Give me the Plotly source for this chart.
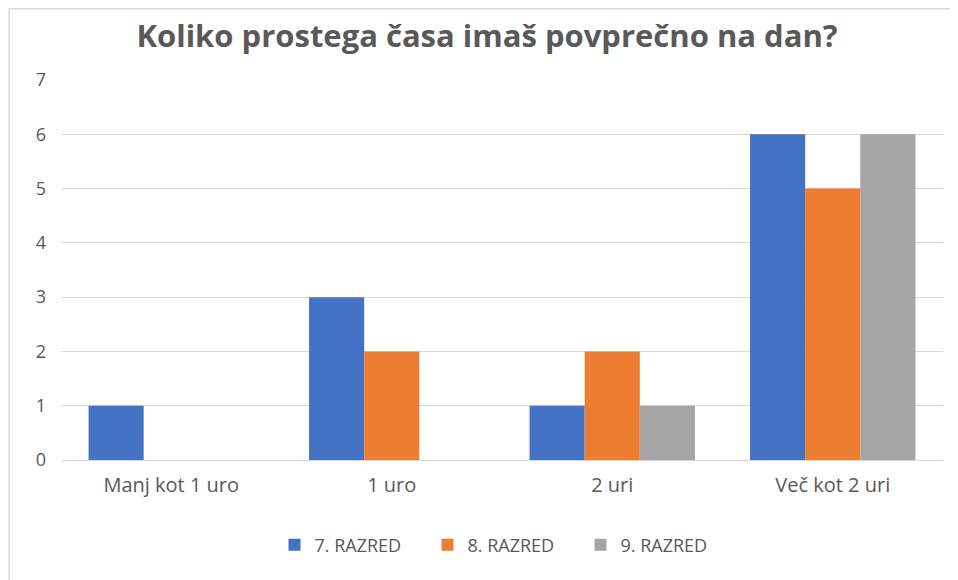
import plotly.graph_objects as go

categories = ["Manj kot 1 uro", "1 uro", "2 uri", "Več kot 2 uri"]
razred7 = [1, 3, 1, 6]
razred8 = [0, 2, 2, 5]
razred9 = [0, 0, 1, 6]
series_names = ["7. RAZRED", "8. RAZRED", "9. RAZRED"]
colors = ["#4472C4", "#ED7D31", "#A5A5A5"]

FONT = "Open Sans"
TXT = "#595959"

W, H = 950, 572          # page body has an 8px margin
L, R, T, B = 53, 15, 72, 120
PW, PH = W - L - R, H - T - B

def px(xf):
    return (xf - L) / PW

def py(yf):
    return (H - B - yf) / PH

fig = go.Figure()
for name, vals, col in zip(series_names, [razred7, razred8, razred9], colors):
    fig.add_trace(go.Bar(x=categories, y=vals, name=name, marker=dict(color=col, line=dict(width=0))))

fig.update_layout(
    width=W, height=H,
    margin=dict(l=L, r=R, t=T, b=B),
    paper_bgcolor="white", plot_bgcolor="white",
    barmode="group", bargap=0.25, bargroupgap=0,
    title=dict(text="<b>Koliko prostega časa imaš povprečno na dan?</b>",
               x=479 / W, xanchor="center", y=1 - 28 / H, yanchor="middle",
               font=dict(family=FONT, size=31, color=TXT)),
    font=dict(family=FONT, color=TXT),
    xaxis=dict(showgrid=False, showline=False, ticks="", ticklabelstandoff=11,
               tickfont=dict(size=20, color=TXT)),
    yaxis=dict(range=[0, 7], dtick=1, showgrid=True, gridcolor="#D9D9D9", gridwidth=1.3,
               zeroline=True, zerolinecolor="#D9D9D9", zerolinewidth=1.3, ticks="",
               ticklabelstandoff=14, tickfont=dict(size=18, color=TXT)),
    legend=dict(orientation="h", x=px(496), xanchor="center", y=py(537), yanchor="middle",
                font=dict(size=18, color=TXT), traceorder="normal",
                itemwidth=30, entrywidth=108, entrywidthmode="pixels"),
    shapes=[
        dict(type="line", xref="paper", yref="paper", x0=px(1), x1=px(1),
             y0=py(0.75), y1=py(H), line=dict(color="#D9D9D9", width=1.5)),
        dict(type="line", xref="paper", yref="paper", x0=px(1), x1=px(W),
             y0=py(0.75), y1=py(0.75), line=dict(color="#D9D9D9", width=1.5)),
    ],
)

fig.write_html("out.html")
